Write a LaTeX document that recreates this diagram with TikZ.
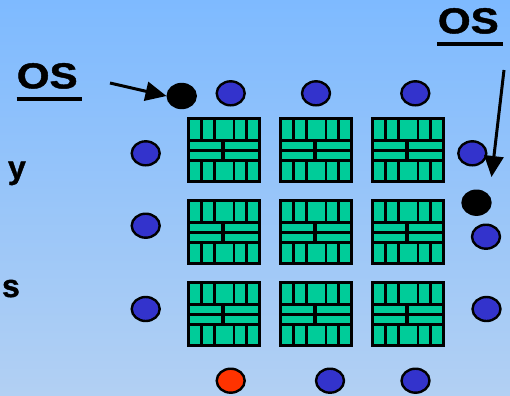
\documentclass[tikz,border=0pt]{standalone}
\usepackage{fontspec}
\setmainfont{Liberation Sans}[BoldFont={Liberation Sans Bold},BoldFeatures={FakeBold=1.2}]
\usetikzlibrary{shapes.geometric,arrows.meta}
\definecolor{bgtop}{RGB}{126,186,255}
\definecolor{bgbot}{RGB}{178,208,243}
\definecolor{chipgreen}{RGB}{0,204,153}
\definecolor{padblue}{RGB}{51,51,204}
\definecolor{padred}{RGB}{255,51,0}
\tikzset{
  pad/.style={ellipse,draw=black,line width=2.4bp,minimum width=28bp,minimum height=24bp,inner sep=0pt},
  bluepad/.style={pad,fill=padblue},
  redpad/.style={pad,fill=padred},
  blackpad/.style={pad,fill=black},
  oslabel/.style={inner sep=0pt,anchor=base west,font=\fontsize{36bp}{36bp}\selectfont\bfseries},
  sidelabel/.style={inner sep=0pt,anchor=base west,font=\fontsize{32bp}{32bp}\selectfont\bfseries},
  pointer/.style={line width=3bp,-{Triangle[length=21bp,width=19bp]}},
  ul/.style={line width=4.2bp},
  chipcell/.style={fill=chipgreen},
  chip/.pic={
    \fill[black] (0,0) rectangle (74,66);
    \foreach \a/\b in {2.7/13.3,16.0/25.8,28.8/45.6,48.4/58.0,60.8/71.3}{
      \fill[chipcell] (\a,2.8) rectangle (\b,22.0);
      \fill[chipcell] (\a,45.0) rectangle (\b,63.2);
    }
    \fill[chipcell] (2.7,25.0) rectangle (34.3,32.2);
    \fill[chipcell] (37.5,25.0) rectangle (71.3,32.2);
    \fill[chipcell] (2.7,35.0) rectangle (34.3,42.2);
    \fill[chipcell] (37.5,35.0) rectangle (71.3,42.2);
  }
}
\begin{document}
\begin{tikzpicture}[x=1bp,y=-1bp]
  \useasboundingbox (0,0) rectangle (510,395);
  \shade[top color=bgtop,bottom color=bgbot] (0,0) rectangle (510,395);

  % chips
  \foreach \cx in {187,279,371}{
    \foreach \cy in {116.7,198.7,280.7}{
      \pic at (\cx,\cy) {chip};
    }
  }

  % pads
  \node[blackpad] (bl) at (181.7,96) {};
  \node[bluepad] (t1) at (230.7,93.3) {};
  \node[bluepad] (t2) at (316,93.3) {};
  \node[bluepad] (t3) at (415.3,93.3) {};
  \node[bluepad] (l1) at (145.7,153.3) {};
  \node[bluepad] (l2) at (145.7,225.7) {};
  \node[bluepad] (l3) at (145.7,309) {};
  \node[bluepad] (r1) at (472.3,153.3) {};
  \node[blackpad] (br) at (476.5,202.7) {};
  \node[bluepad] (r2) at (486,236.7) {};
  \node[bluepad] (r3) at (486.5,309) {};
  \node[redpad] (b1) at (230.7,380.7) {};
  \node[bluepad] (b2) at (330,380.7) {};
  \node[bluepad] (b3) at (415.5,380.7) {};

  % labels
  \node[oslabel] (osl) at (16.6,88.3) {\scalebox{1.17}[1]{OS}};
  \node[oslabel] (osr) at (437.7,33.3) {\scalebox{1.17}[1]{OS}};
  \draw[ul] (16.7,99) -- (81.7,99);
  \draw[ul] (437,44.2) -- (502.7,44.2);
  \node[sidelabel] (ly) at (7.8,178.5) {y};
  \node[sidelabel] (ls) at (1.8,297) {s};

  % pointers
  \coordinate (pl) at (110,83);
  \coordinate (pr) at (504,70);
  \coordinate (prt) at (491.5,177);
  \draw[pointer] (pl) -- (bl.west);
  \draw[pointer] (pr) -- (prt);
\end{tikzpicture}
\end{document}
